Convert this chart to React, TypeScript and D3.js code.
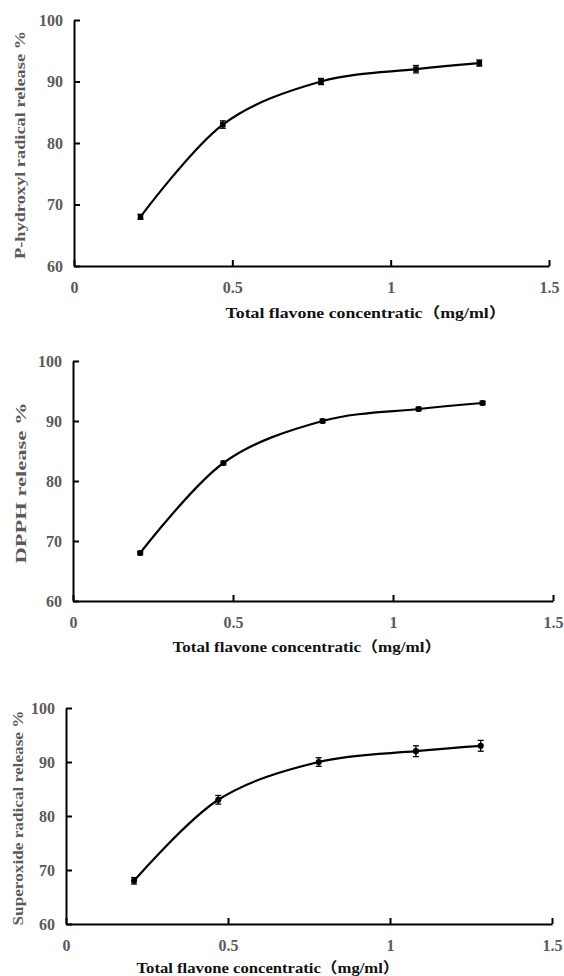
import { useEffect, useRef } from 'react'
import * as d3 from 'd3'

// Total flavone concentration (mg/ml) shared by all three assays
const concentration = [0.21, 0.47, 0.78, 1.08, 1.28]

const hydroxylRelease = [68, 83, 90, 92, 93]
const hydroxylError = [0.4, 0.6, 0.5, 0.6, 0.5]

const dpphRelease = [68, 83, 90, 92, 93]
const dpphError = [0.3, 0.3, 0.3, 0.3, 0.3]

const superoxideRelease = [68, 83, 90, 92, 93]
const superoxideError = [0.6, 0.8, 0.8, 1.0, 1.0]

const xTicks = [0, 0.5, 1, 1.5]
const yTicks = [60, 70, 80, 90, 100]
const xTitle = 'Total flavone concentratic（mg/ml）'

interface Panel {
  yTitle: string
  values: number[]
  errors: number[]
  marker: d3.SymbolType
  // layout in page pixels
  x0: number
  x1: number
  yTop: number
  yBottom: number
  yTitleX: number
  yTitleLen: number
  xTitleX: number
  xTitleY: number
  xTitleLen: number
}

const panels: Panel[] = [
  {
    yTitle: 'P-hydroxyl radical release %',
    values: hydroxylRelease,
    errors: hydroxylError,
    marker: d3.symbolSquare,
    x0: 74, x1: 549, yTop: 20, yBottom: 266,
    yTitleX: 20, yTitleLen: 228,
    xTitleX: 366, xTitleY: 318, xTitleLen: 281
  },
  {
    yTitle: 'DPPH release %',
    values: dpphRelease,
    errors: dpphError,
    marker: d3.symbolCircle,
    x0: 73, x1: 553, yTop: 361, yBottom: 601,
    yTitleX: 21, yTitleLen: 161,
    xTitleX: 307, xTitleY: 652, xTitleLen: 269
  },
  {
    yTitle: 'Superoxide radical release %',
    values: superoxideRelease,
    errors: superoxideError,
    marker: d3.symbolCircle,
    x0: 66, x1: 552, yTop: 708, yBottom: 924,
    yTitleX: 18, yTitleLen: 215,
    xTitleX: 268, xTitleY: 973, xTitleLen: 263
  }
]

const serif = '"Liberation Serif", "Noto Sans CJK SC", serif'
const labelColor = '#5a5a5a'

export default function App() {
  const ref = useRef<SVGSVGElement>(null)

  useEffect(() => {
    if (!ref.current) return
    const svg = d3.select(ref.current)
    svg.selectAll('*').remove()

    for (const p of panels) {
      const x = d3.scaleLinear().domain([0, 1.5]).range([p.x0, p.x1])
      const y = d3.scaleLinear().domain([60, 100]).range([p.yBottom, p.yTop])
      const g = svg.append('g')

      // X axis (ticks point up into the plot)
      g.append('g')
        .attr('transform', `translate(0,${p.yBottom})`)
        .call(d3.axisBottom(x).tickValues(xTicks).tickSizeInner(-6).tickSizeOuter(0).tickPadding(16)
          .tickFormat(d => d3.format('~g')(d as number)))
        .call(a => a.select('.domain').attr('stroke', '#000').attr('stroke-width', 2))
        .call(a => a.selectAll('.tick line').attr('stroke', '#000').attr('stroke-width', 2))
        .call(a => a.selectAll('.tick text')
          .attr('fill', labelColor).style('font-family', serif)
          .style('font-size', '16px').style('font-weight', 'bold'))

      // Y axis (ticks point right into the plot)
      g.append('g')
        .attr('transform', `translate(${p.x0},0)`)
        .call(d3.axisLeft(y).tickValues(yTicks).tickSizeInner(-6).tickSizeOuter(0).tickPadding(11))
        .call(a => a.select('.domain').attr('stroke', '#000').attr('stroke-width', 2))
        .call(a => a.selectAll('.tick line').attr('stroke', '#000').attr('stroke-width', 2))
        .call(a => a.selectAll('.tick text')
          .attr('fill', labelColor).style('font-family', serif)
          .style('font-size', '16px').style('font-weight', 'bold'))

      const pts = concentration.map((c, i) => ({ c, v: p.values[i], e: p.errors[i] }))

      // smoothed line
      const line = d3.line<{ c: number; v: number }>()
        .x(d => x(d.c))
        .y(d => y(d.v))
        .curve(d3.curveCardinal.tension(0))

      g.append('path')
        .datum(pts)
        .attr('fill', 'none')
        .attr('stroke', '#000')
        .attr('stroke-width', 2.2)
        .attr('d', line)

      // error bars
      const eb = g.append('g').attr('stroke', '#000').attr('stroke-width', 1.3)
      for (const d of pts) {
        const cx = x(d.c)
        const lo = y(d.v - d.e)
        const hi = y(d.v + d.e)
        eb.append('line').attr('x1', cx).attr('x2', cx).attr('y1', lo).attr('y2', hi)
        eb.append('line').attr('x1', cx - 3).attr('x2', cx + 3).attr('y1', lo).attr('y2', lo)
        eb.append('line').attr('x1', cx - 3).attr('x2', cx + 3).attr('y1', hi).attr('y2', hi)
      }

      // markers
      g.append('g').selectAll('path')
        .data(pts)
        .join('path')
        .attr('transform', d => `translate(${x(d.c)},${y(d.v)})`)
        .attr('d', d3.symbol().type(p.marker).size(30))
        .attr('fill', '#000')

      // Y title
      const yMid = (p.yTop + p.yBottom) / 2 + 2
      g.append('text')
        .attr('transform', `translate(${p.yTitleX + 5},${yMid}) rotate(-90)`)
        .attr('text-anchor', 'middle')
        .attr('textLength', p.yTitleLen)
        .attr('lengthAdjust', 'spacingAndGlyphs')
        .attr('fill', labelColor)
        .style('font-family', serif)
        .style('font-size', '15px')
        .style('font-weight', 'bold')
        .text(p.yTitle)

      // X title
      g.append('text')
        .attr('x', p.xTitleX)
        .attr('y', p.xTitleY)
        .attr('text-anchor', 'middle')
        .attr('textLength', p.xTitleLen)
        .attr('lengthAdjust', 'spacingAndGlyphs')
        .attr('fill', '#111')
        .style('font-family', serif)
        .style('font-size', '15px')
        .style('font-weight', 'bold')
        .text(xTitle)
    }
  }, [])

  return (
    <svg
      ref={ref}
      width={564}
      height={976}
      style={{ position: 'absolute', left: 0, top: 0, background: '#fff' }}
    />
  )
}
